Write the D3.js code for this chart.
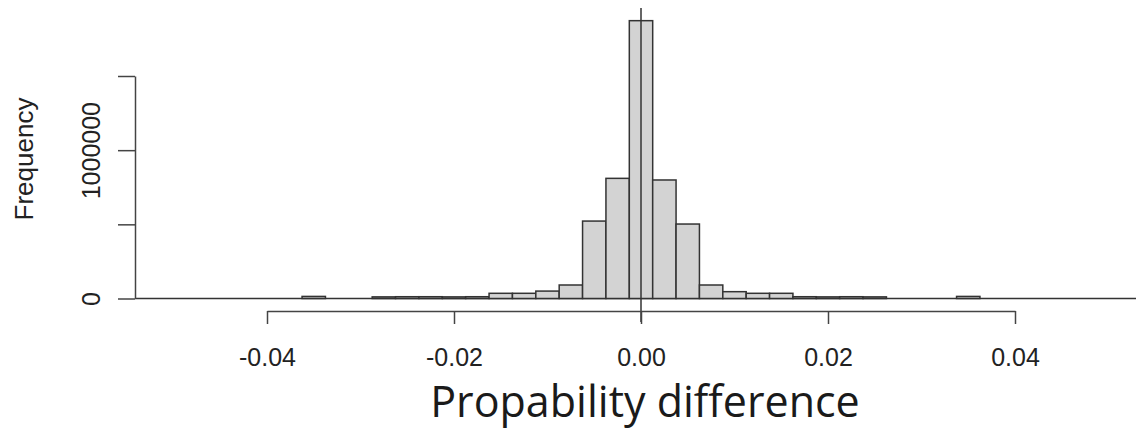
<!DOCTYPE html>
<html>
<head>
<meta charset="utf-8">
<script src="https://cdn.jsdelivr.net/npm/d3@7"></script>
<style>
  body { margin: 0; background: #fff; }
  svg { display: block; }
</style>
</head>
<body>
<svg></svg>
<script>
// bin centres (width 0.0025) and counts
let binWidth = 0.0025
let binCenters = [-0.035, -0.0275, -0.025, -0.0225, -0.02, -0.0175,
  -0.015, -0.0125, -0.01, -0.0075, -0.005, -0.0025, 0,
  0.0025, 0.005, 0.0075, 0.01, 0.0125, 0.015,
  0.0175, 0.02, 0.0225, 0.025, 0.035]
let counts = [14000, 11000, 12000, 12000, 11000, 12000,
  35000, 35000, 50000, 91000, 522000, 810000, 1873000,
  799000, 502000, 91000, 46000, 35000, 35000,
  12000, 11000, 12000, 11000, 14000]

let xTicks = [-0.04, -0.02, 0, 0.02, 0.04]
let xTickLabels = ["-0.04", "-0.02", "0.00", "0.02", "0.04"]
let yTicks = [0, 500000, 1000000, 1500000]
let yTickLabels = ["0", "", "1000000", ""]

let width = 1136
let height = 429

let xScale
let yScale

let svg = d3.select("svg")

let drawCanvas = () => {
  svg.attr("width", width)
     .attr("height", height)
}

let generateScales = () => {
  xScale = d3.scaleLinear()
             .domain([-0.04, 0.04])
             .range([267, 1015])
  yScale = d3.scaleLinear()
             .domain([0, 1500000])
             .range([298.5, 76])
}

let drawBars = () => {
  // baseline across the plot
  svg.append("line")
     .attr("x1", 135)
     .attr("x2", width)
     .attr("y1", yScale(0))
     .attr("y2", yScale(0))
     .attr("stroke", "#333")
     .attr("stroke-width", 1.5)

  svg.selectAll("rect.bar")
     .data(binCenters)
     .enter()
     .append("rect")
     .attr("class", "bar")
     .attr("x", d => xScale(d - binWidth / 2))
     .attr("width", d => xScale(d + binWidth / 2) - xScale(d - binWidth / 2))
     .attr("y", (d, i) => yScale(counts[i]))
     .attr("height", (d, i) => yScale(0) - yScale(counts[i]))
     .attr("fill", "#d3d3d3")
     .attr("stroke", "#333")
     .attr("stroke-width", 1.5)

  // vertical reference line at zero
  svg.append("line")
     .attr("x1", xScale(0))
     .attr("x2", xScale(0))
     .attr("y1", 8)
     .attr("y2", 322)
     .attr("stroke", "#333")
     .attr("stroke-width", 1.5)
}

let generateAxes = () => {
  let xAxis = d3.axisBottom(xScale)
                .tickValues(xTicks)
                .tickFormat((d, i) => xTickLabels[i])
                .tickSize(13)
                .tickSizeOuter(0)
  let gx = svg.append("g")
              .attr("transform", "translate(0, 311)")
              .call(xAxis)
  gx.selectAll("path, line").attr("stroke", "#444").attr("stroke-width", 1.5)
  gx.selectAll("text")
    .attr("y", 55)
    .attr("dy", 0)
    .attr("fill", "#222")
    .style("font-family", "'Liberation Sans', Arial, sans-serif")
    .style("font-size", "25px")

  let yAxis = d3.axisLeft(yScale)
                .tickValues(yTicks)
                .tickFormat((d, i) => yTickLabels[i])
                .tickSize(17)
                .tickSizeOuter(0)
  let gy = svg.append("g")
              .attr("transform", "translate(135, 0)")
              .call(yAxis)
  gy.selectAll("path, line").attr("stroke", "#444").attr("stroke-width", 1.5)
  gy.selectAll("text")
    .attr("transform", "rotate(-90)")
    .attr("x", 0)
    .attr("y", -35)
    .attr("dy", 0)
    .attr("text-anchor", "middle")
    .attr("fill", "#222")
    .style("font-family", "'Liberation Sans', Arial, sans-serif")
    .style("font-size", "25px")

  svg.append("text")
     .attr("transform", "translate(33, 159) rotate(-90)")
     .attr("text-anchor", "middle")
     .attr("fill", "#222")
     .style("font-family", "'Liberation Sans', Arial, sans-serif")
     .style("font-size", "26px")
     .text("Frequency")

  svg.append("text")
     .attr("x", 645)
     .attr("y", 417)
     .attr("text-anchor", "middle")
     .attr("fill", "#1a1a1a")
     .style("font-family", "'Open Sans', sans-serif")
     .style("font-size", "43px")
     .text("Propability difference")
}

drawCanvas()
generateScales()
drawBars()
generateAxes()
</script>
</body>
</html>
